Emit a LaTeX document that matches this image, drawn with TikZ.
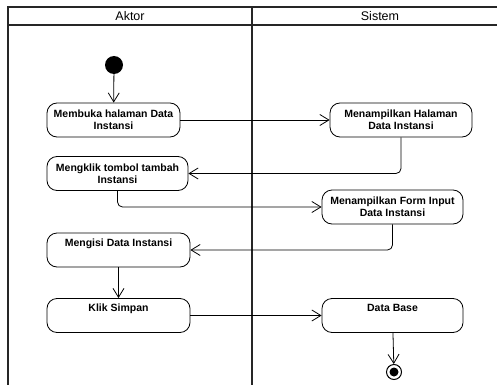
\documentclass[tikz,border=0pt]{standalone}
\usepackage{fontspec}
\setmainfont{Liberation Sans}
\usetikzlibrary{arrows.meta}
\begin{document}
\begin{tikzpicture}[x=1pt,y=-1pt,
  lane/.style={line width=1.3pt, draw=black!85},
  action/.style={draw, line width=0.8pt, rounded corners=10pt, minimum height=34pt,
    align=center, inner sep=2pt, font=\fontsize{10.5}{12}\selectfont\bfseries},
  flow/.style={line width=0.8pt, -{Straight Barb[length=9pt,width=11pt,line width=0.8pt]}},
  elbow/.style={flow, rounded corners=5pt},
  lanetitle/.style={font=\fontsize{12.5}{14}\selectfont}
]
\useasboundingbox (0,0) rectangle (497,385);

% swimlane frame
\draw[lane] (497,7) -- (8,7) -- (8,385);
\draw[lane] (8,25) -- (497,25);
\draw[lane] (252,7) -- (252,385);
\node[lanetitle] (hA) at (130,16) {Aktor};
\node[lanetitle] (hS) at (380,16) {Sistem};

% initial and final states
\node[circle, fill=black, minimum size=18pt, inner sep=0pt] (start) at (114,65) {};
\node[circle, draw, line width=1pt, minimum size=15pt, inner sep=0pt] (stop) at (394,372) {};
\node[circle, fill=black, minimum size=9pt, inner sep=0pt] (stopdot) at (394,372) {};

% actions
\node[action, minimum width=133pt] (a1) at (113.5,120) {Membuka halaman Data\\Instansi};
\node[action, minimum width=141pt] (a2) at (117.5,173.5) {Mengklik tombol tambah\\Instansi};
\node[action, minimum width=143pt] (a3) at (118.5,250) {Mengisi Data Instansi\\\strut};
\node[action, minimum width=143pt] (a4) at (118.5,315.5) {Klik Simpan\\\strut};
\node[action, minimum width=142pt] (s1) at (401,120) {Menampilkan Halaman\\Data Instansi};
\node[action, minimum width=141pt] (s2) at (392.5,207) {Menampilkan Form Input\\Data Instansi};
\node[action, minimum width=141pt] (s3) at (392.5,315.5) {Data Base\\\strut};

% control flow
\draw[flow] (start) -- (a1);
\draw[flow] (a1) -- (s1);
\draw[elbow] (s1.south) |- (a2.east);
\draw[elbow] (a2.south) |- (s2.west);
\draw[elbow] (s2.south) |- (a3.east);
\draw[flow] (a3) -- (a4);
\draw[flow] (a4) -- (s3);
\draw[flow] (s3) -- (stop);
\end{tikzpicture}
\end{document}
